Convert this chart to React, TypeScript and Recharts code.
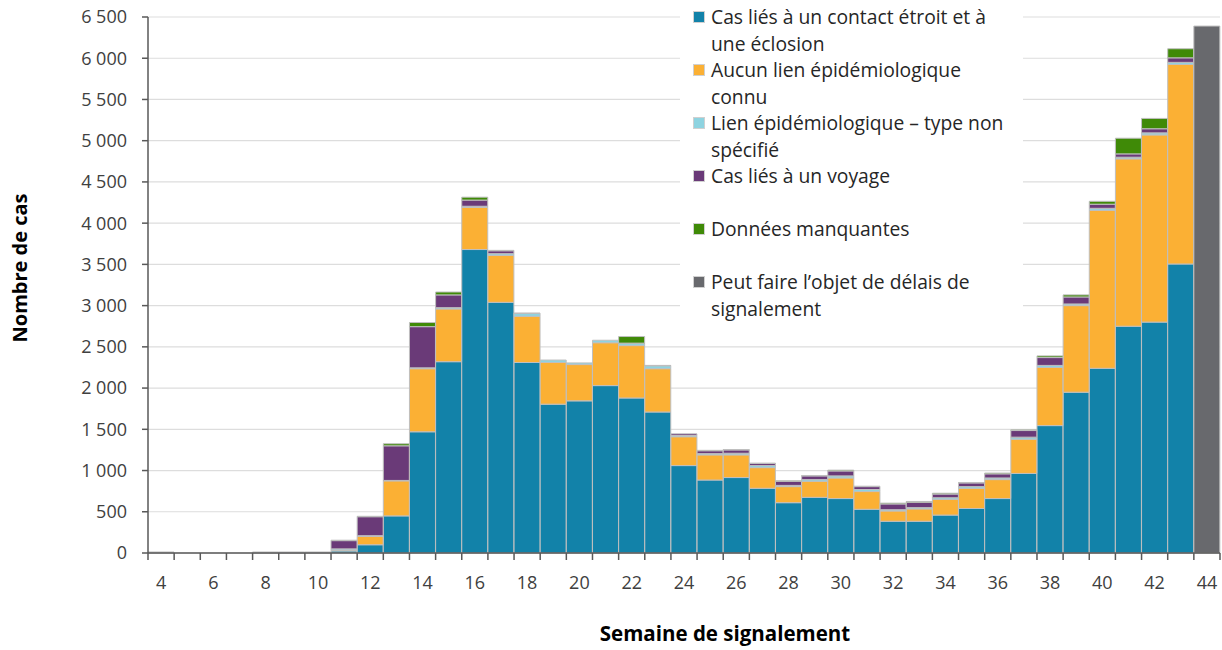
import { BarChart, Bar, XAxis, YAxis, CartesianGrid, Legend, Label } from 'recharts';

const weeks = [4, 5, 6, 7, 8, 9, 10, 11, 12, 13, 14, 15, 16, 17, 18, 19, 20, 21, 22, 23, 24, 25, 26, 27, 28, 29, 30, 31, 32, 33, 34, 35, 36, 37, 38, 39, 40, 41, 42, 43, 44];

// Cas liés à un contact étroit et à une éclosion
const closeContact = [5, 0, 0, 0, 3, 3, 3, 25, 100, 450, 1470, 2320, 3680, 3040, 2310, 1805, 1845, 2030, 1880, 1710, 1060, 885, 915, 785, 610, 675, 660, 530, 385, 385, 460, 540, 660, 965, 1545, 1950, 2240, 2750, 2800, 3505, 0];
// Aucun lien épidémiologique connu
const noLink = [3, 0, 0, 0, 3, 3, 3, 10, 100, 425, 765, 640, 510, 570, 560, 505, 440, 520, 635, 525, 350, 305, 275, 250, 195, 195, 250, 215, 125, 150, 190, 245, 230, 415, 705, 1050, 1915, 2030, 2270, 2420, 0];
// Lien épidémiologique – type non spécifié
const unspecified = [2, 0, 0, 0, 2, 2, 2, 15, 10, 5, 10, 15, 15, 20, 35, 30, 20, 30, 25, 35, 15, 15, 20, 25, 15, 20, 25, 25, 15, 15, 20, 20, 20, 25, 25, 20, 25, 20, 25, 25, 0];
// Cas liés à un voyage
const travel = [0, 0, 0, 0, 2, 2, 2, 100, 230, 420, 500, 155, 75, 35, 5, 0, 0, 0, 5, 5, 20, 35, 40, 25, 50, 45, 60, 35, 70, 65, 45, 45, 50, 80, 95, 85, 50, 40, 50, 55, 0];
// Données manquantes
const missing = [0, 0, 0, 0, 0, 0, 0, 5, 5, 25, 50, 35, 35, 5, 0, 0, 0, 0, 80, 0, 0, 5, 5, 5, 5, 5, 10, 5, 10, 10, 10, 5, 10, 10, 20, 25, 35, 190, 125, 110, 0];
// Peut faire l'objet de délais de signalement
const reportingDelay = [0, 0, 0, 0, 0, 0, 0, 0, 0, 0, 0, 0, 0, 0, 0, 0, 0, 0, 0, 0, 0, 0, 0, 0, 0, 0, 0, 0, 0, 0, 0, 0, 0, 0, 0, 0, 0, 0, 0, 0, 6390];

const yTicks = [0, 500, 1000, 1500, 2000, 2500, 3000, 3500, 4000, 4500, 5000, 5500, 6000, 6500];

const series = [
  { key: 'closeContact', color: '#1282A9', lines: ['Cas liés à un contact étroit et à', 'une éclosion'] },
  { key: 'noLink', color: '#FBB034', lines: ['Aucun lien épidémiologique', 'connu'] },
  { key: 'unspecified', color: '#8ED3E0', lines: ['Lien épidémiologique – type non', 'spécifié'] },
  { key: 'travel', color: '#6A3A78', lines: ['Cas liés à un voyage'] },
  { key: 'missing', color: '#3F8A07', lines: ['Données manquantes'] },
  { key: 'reportingDelay', color: '#68696D', lines: ['Peut faire l’objet de délais de', 'signalement'] },
];

const data = weeks.map((week, i) => ({
  week,
  closeContact: closeContact[i],
  noLink: noLink[i],
  unspecified: unspecified[i],
  travel: travel[i],
  missing: missing[i],
  reportingDelay: reportingDelay[i],
}));

const FONT = '"Open Sans", Lato, sans-serif';
const WIDTH = 1222;
const HEIGHT = 650;
const LEFT = 148;
const RIGHT = 2;
const BAND = (WIDTH - LEFT - RIGHT) / weeks.length;

const fmt = (v: number) => (v >= 1000 ? `${Math.floor(v / 1000)}\u00A0${String(v % 1000).padStart(3, '0')}` : String(v));

function WeekTick(props: any) {
  const { x, y, payload, index } = props;
  const last = index === weeks.length - 1;
  return (
    <g>
      <line x1={x - BAND / 2} x2={x - BAND / 2} y1={y} y2={y + 7} stroke="#595959" strokeWidth={1.5} />
      {last && <line x1={x + BAND / 2} x2={x + BAND / 2} y1={y} y2={y + 7} stroke="#595959" strokeWidth={1.5} />}
      {payload.value % 2 === 0 && (
        <text x={x} y={y + 36} textAnchor="middle" fill="#404040" fontSize={18} fontFamily={FONT}>
          {payload.value}
        </text>
      )}
    </g>
  );
}

function LegendBox() {
  return (
    <div style={{ background: '#fff', width: 343, height: 330, boxSizing: 'border-box', paddingTop: 4, paddingLeft: 13, fontFamily: FONT }}>
      {series.map((s) => (
        <div key={s.key} style={{ display: 'flex', height: 53 }}>
          <div style={{ width: 12, height: 12, marginTop: 7, background: s.color, flex: 'none', boxShadow: 'inset 0 0 0 1px #d0d0d0' }} />
          <div style={{ marginLeft: 6, fontSize: 19.3, lineHeight: '26.5px', color: '#262626', whiteSpace: 'nowrap' }}>
            {s.lines.map((l) => (
              <div key={l}>{l}</div>
            ))}
          </div>
        </div>
      ))}
    </div>
  );
}

export default function App() {
  return (
    <div style={{ position: 'absolute', left: 0, top: 0, width: WIDTH, height: HEIGHT, background: '#fff' }}>
      <BarChart
        width={WIDTH}
        height={HEIGHT}
        data={data}
        margin={{ top: 17, right: RIGHT, bottom: 0, left: 0 }}
        barCategoryGap={0}
        barGap={0}
        style={{ fontFamily: FONT }}
      >
        <CartesianGrid vertical={false} stroke="#DDDDDD" strokeWidth={1.2} />
        <XAxis
          dataKey="week"
          type="category"
          interval={0}
          height={97}
          tickSize={0}
          tickMargin={0}
          tickLine={false}
          tick={<WeekTick />}
          axisLine={{ stroke: '#595959', strokeWidth: 1.5 }}
        >
          <Label
            content={() => (
              <text x={725} y={641} textAnchor="middle" fontSize={20.5} fontWeight={700} fill="#000" fontFamily={FONT}>
                Semaine de signalement
              </text>
            )}
          />
        </XAxis>
        <YAxis
          width={LEFT}
          domain={[0, 6500]}
          ticks={yTicks}
          interval={0}
          tickFormatter={fmt}
          tickSize={6}
          tickMargin={15}
          tick={{ fill: '#404040', fontSize: 18, fontFamily: FONT }}
          tickLine={{ stroke: '#595959', strokeWidth: 1.5 }}
          axisLine={{ stroke: '#595959', strokeWidth: 1.5 }}
        >
          <Label
            content={() => (
              <text x={0} y={0} transform="translate(27,268) rotate(-90)" textAnchor="middle" fontSize={20} fontWeight={700} fill="#000" fontFamily={FONT}>
                Nombre de cas
              </text>
            )}
          />
        </YAxis>
        <Legend
          layout="vertical"
          align="center"
          verticalAlign="middle"
          content={<LegendBox />}
          wrapperStyle={{ left: 680, top: 0, width: 343, height: 330 }}
        />
        {series.map((s) => (
          <Bar
            key={s.key}
            dataKey={s.key}
            name={s.lines.join(' ')}
            stackId="cases"
            fill={s.color}
            stroke="#BFBFBF"
            strokeWidth={1}
            isAnimationActive={false}
          />
        ))}
      </BarChart>
    </div>
  );
}
